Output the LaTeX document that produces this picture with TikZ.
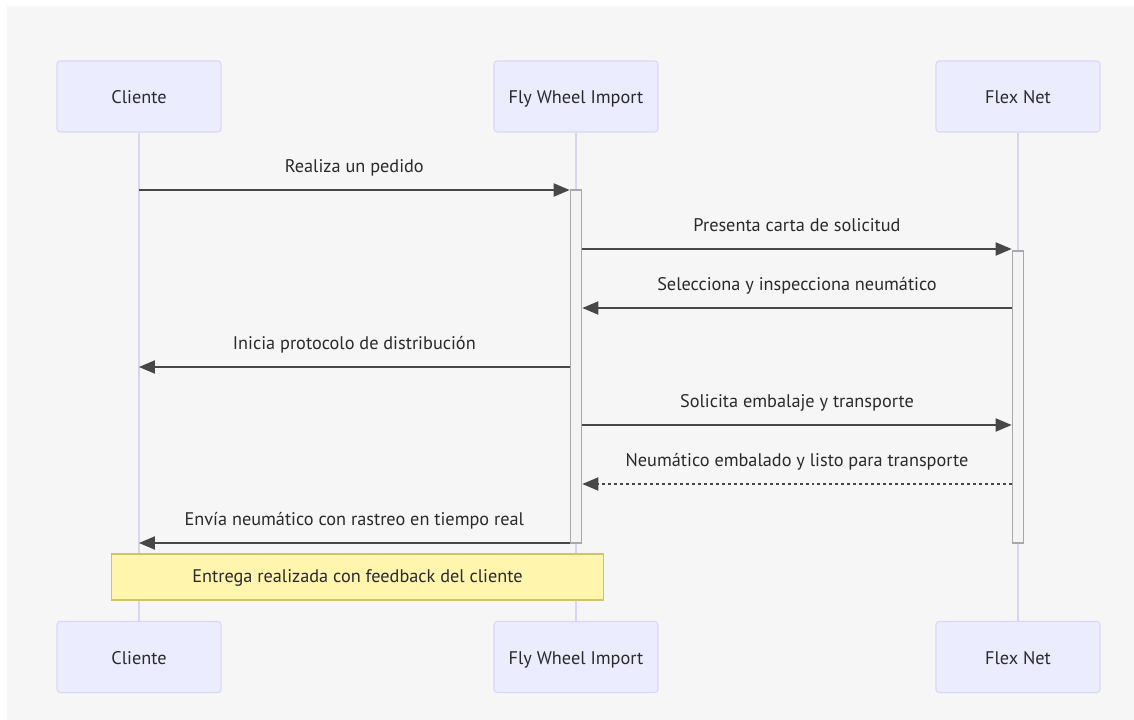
\documentclass[tikz,border=0pt]{standalone}
\usepackage{fontspec}
\setmainfont{PT Sans}
\usetikzlibrary{arrows}
\definecolor{bgcol}{HTML}{F6F6F6}
\definecolor{actorfill}{HTML}{ECECFF}
\definecolor{actorline}{HTML}{DDD5F7}
\definecolor{lifecol}{HTML}{DCD2F4}
\definecolor{msgcol}{HTML}{474747}
\definecolor{txtcol}{HTML}{2A2A2A}
\definecolor{actfill}{HTML}{F4F4F4}
\definecolor{actline}{HTML}{A8A8A8}
\definecolor{notefill}{HTML}{FFF5AD}
\definecolor{noteline}{HTML}{CCC46A}
\tikzset{
  actor_box/.style = {draw=actorline, fill=actorfill, line width=0.6pt,
    rounded corners=0.06cm, minimum width=3.28cm, minimum height=1.42cm,
    text=txtcol, font=\fontsize{10.4}{12}\selectfont,
    text height=1.8ex, text depth=0.15ex},
  life_line/.style = {draw=lifecol, line width=0.7pt},
  act_bar/.style = {draw=actline, fill=actfill, line width=1pt,
    minimum width=0.22cm, inner sep=0pt},
  msg_line/.style = {->, draw=msgcol, line width=1.1pt},
  msg_dots/.style = {msg_line, dash pattern=on 1.7pt off 1.7pt},
  msg_text/.style = {midway, yshift=0.46cm, text=txtcol,
    font=\fontsize{10.4}{12}\selectfont, text height=1.6ex, text depth=0.4ex},
  note_box/.style = {draw=noteline, fill=notefill, line width=0.6pt,
    minimum width=9.86cm, minimum height=0.92cm, text=txtcol,
    font=\fontsize{10.4}{12}\selectfont, text height=1.6ex, text depth=0.4ex}}

\begin{document}
\begin{tikzpicture}[x=0.02cm, y=-0.02cm, >=triangle 45]
\useasboundingbox (0,0) rectangle (1134,720);
\fill[bgcol] (7,6) rectangle (1134,720);

% participants
\node[actor_box] (cli_top) at (139,96.5) {Cliente};
\node[actor_box] (fwi_top) at (576,96.5) {Fly Wheel Import};
\node[actor_box] (fnt_top) at (1018,96.5) {Flex Net};
\node[actor_box] (cli_bot) at (139,657) {Cliente};
\node[actor_box] (fwi_bot) at (576,657) {Fly Wheel Import};
\node[actor_box] (fnt_bot) at (1018,657) {Flex Net};

% lifelines
\draw[life_line] (cli_top) -- (cli_bot);
\draw[life_line] (fwi_top) -- (fwi_bot);
\draw[life_line] (fnt_top) -- (fnt_bot);

% activations
\node[act_bar, minimum height=7.06cm] (fwi_act) at (576,366.5) {};
\node[act_bar, minimum height=5.84cm] (fnt_act) at (1018,397) {};

% messages
\draw[msg_line] (cli_top |- 0,190) -- (fwi_act.west |- 0,190)
  node[msg_text] {Realiza un pedido};
\draw[msg_line] (fwi_act.east |- 0,249) -- (fnt_act.west |- 0,249)
  node[msg_text] {Presenta carta de solicitud};
\draw[msg_line] (fnt_act.west |- 0,308) -- (fwi_act.east |- 0,308)
  node[msg_text] {Selecciona y inspecciona neumático};
\draw[msg_line] (fwi_act.west |- 0,367) -- (cli_top |- 0,367)
  node[msg_text] {Inicia protocolo de distribución};
\draw[msg_line] (fwi_act.east |- 0,425) -- (fnt_act.west |- 0,425)
  node[msg_text] {Solicita embalaje y transporte};
\draw[msg_dots] (fnt_act.west |- 0,484) -- (fwi_act.east |- 0,484)
  node[msg_text] {Neumático embalado y listo para transporte};
\draw[msg_line] (fwi_act.west |- 0,543) -- (cli_top |- 0,543)
  node[msg_text] {Envía neumático con rastreo en tiempo real};

% note
\node[note_box] (note_end) at (357.5,577) {Entrega realizada con feedback del cliente};
\end{tikzpicture}
\end{document}
